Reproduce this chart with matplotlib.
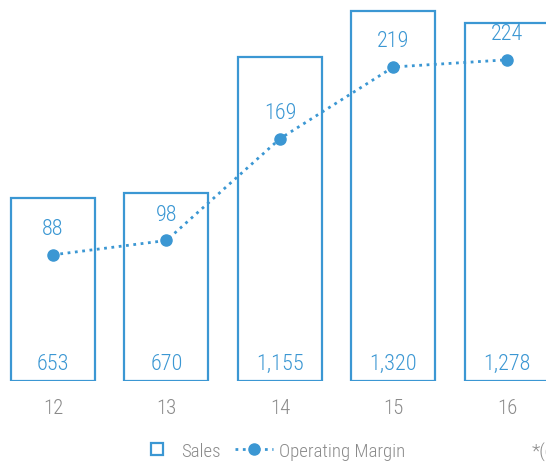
import matplotlib
matplotlib.use("Agg")
import matplotlib.pyplot as plt
from matplotlib.lines import Line2D

years = ["12", "13", "14", "15", "16"]
sales = [653, 670, 1155, 1320, 1278]
margin = [88, 98, 169, 219, 224]

blue = "#3b97d3"
grey = "#8a8a8a"
plt.rcParams["font.family"] = ["Roboto Condensed", "DejaVu Sans"]
plt.rcParams["font.weight"] = "light"

fig = plt.figure(figsize=(5.46, 4.64), dpi=100)
ax = fig.add_axes([0, 82 / 464, 1, 382 / 464])
ax2 = ax.twinx()

x = list(range(len(years)))
ax.bar(x, sales, width=0.74, facecolor="white", edgecolor=blue, linewidth=1.6)
for i, v in enumerate(sales):
    ax.text(i, 26, f"{v:,}", ha="center", va="bottom", color=blue, fontsize=16)

ax2.plot(x, margin, color=blue, linestyle=":", linewidth=2, marker="o",
         markersize=8)
for i, v in enumerate(margin):
    ax2.text(i, v + 11, str(v), ha="center", va="bottom", color=blue, fontsize=16)

ax.set_xlim(-0.467, 4.344)
ax.set_ylim(0, 1363)
ax2.set_ylim(0, 266.4)
for a in (ax, ax2):
    a.axis("off")

for i, y in enumerate(years):
    fig.text((53 + i * 113.5) / 546, 1 - 409 / 464, y, ha="center", va="center",
             color=grey, fontsize=15)

handles = [
    Line2D([], [], linestyle="none", marker="s", markersize=8,
           markerfacecolor="white", markeredgecolor=blue, markeredgewidth=1.6),
    Line2D([], [], color=blue, linestyle=":", linewidth=2, marker="o",
           markersize=8),
]
fig.legend(handles, ["Sales", "Operating Margin"], loc="center",
           bbox_to_anchor=(0.497, 1 - 452 / 464), ncol=2, frameon=False,
           fontsize=13.5, labelcolor=grey, handlelength=2.0, columnspacing=0.8,
           handletextpad=0.3, markerfirst=True)
fig.text(532 / 546, 1 - 452 / 464, "*(estimate)", ha="left", va="center",
         color=grey, fontsize=14)

fig.savefig("out.png", dpi=100)
